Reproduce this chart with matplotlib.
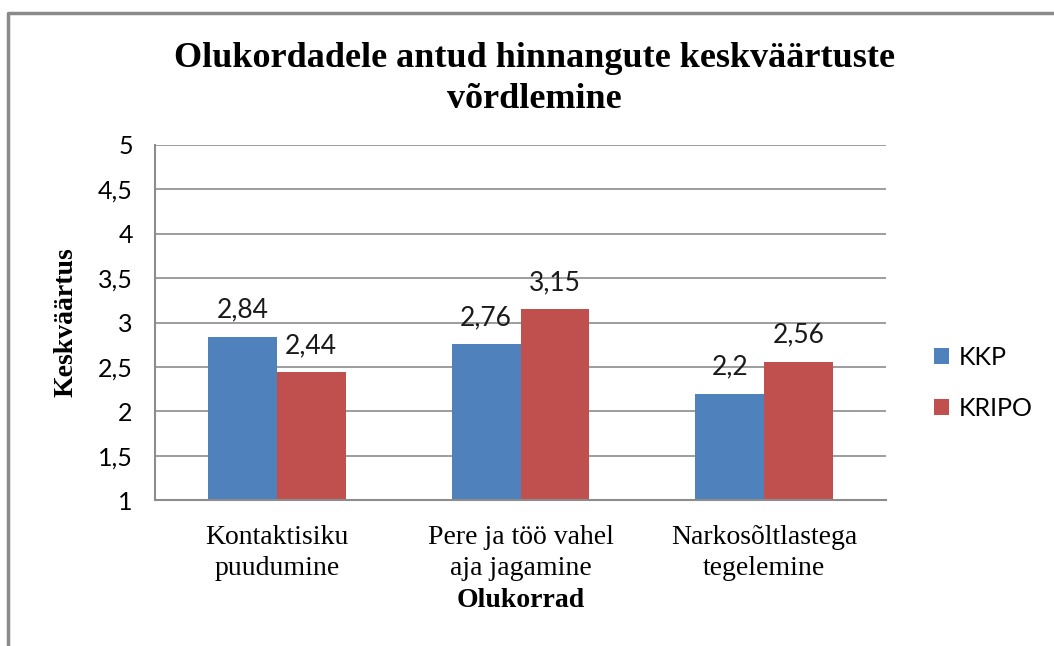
import numpy as np
import matplotlib
matplotlib.use("Agg")
import matplotlib.pyplot as plt
from matplotlib.lines import Line2D

# data
categories = ["Kontaktisiku\npuudumine", "Pere ja töö vahel\naja jagamine", "Narkosõltlastega\ntegelemine"]
kkp = [2.84, 2.76, 2.2]
kripo = [2.44, 3.15, 2.56]
series_names = ["KKP", "KRIPO"]
yticks = [1, 1.5, 2, 2.5, 3, 3.5, 4, 4.5, 5]

blue = "#4F81BD"
red = "#C0504D"
grid_col = "#8c8c8c"
serif = "Liberation Serif"
sans = "Lato"


def fmt(v):
    return ("%g" % v).replace(".", ",")


fig = plt.figure(figsize=(10.54, 6.46), dpi=100)
ax = fig.add_axes([155 / 1054, 1 - 500 / 646, 731 / 1054, 355 / 646])

x = np.arange(len(categories))
w = 0.283
b1 = ax.bar(x - w / 2, np.array(kkp) - 1, w, bottom=1, color=blue, label=series_names[0])
b2 = ax.bar(x + w / 2, np.array(kripo) - 1, w, bottom=1, color=red, label=series_names[1])

for bars, vals in ((b1, kkp), (b2, kripo)):
    for rect, v in zip(bars, vals):
        ax.annotate(fmt(v), (rect.get_x() + rect.get_width() / 2, v),
                    xytext=(0, 19), textcoords="offset points",
                    ha="center", va="center", fontsize=19, family=sans, color="#1a1a1a")

ax.set_xlim(-0.5, 2.5)
ax.set_ylim(1, 5)
ax.set_yticks(yticks)
ax.set_yticklabels([fmt(t) for t in yticks], family=sans, fontsize=18)
ax.set_xticks(x)
ax.set_xticklabels(categories, family=serif, fontsize=20, linespacing=1.3)
ax.tick_params(axis="y", length=0, pad=16)
ax.tick_params(axis="x", length=0, pad=18)

ax.yaxis.grid(True, color=grid_col, linewidth=1.2)
ax.set_axisbelow(True)
for s in ("top", "right"):
    ax.spines[s].set_visible(False)
for s in ("left", "bottom"):
    ax.spines[s].set_color(grid_col)
    ax.spines[s].set_linewidth(1.5)

ax.set_xlabel("Olukorrad", family=serif, fontsize=20, fontweight="bold", labelpad=5)
ax.set_ylabel("Keskväärtus", family=serif, fontsize=20, fontweight="bold", labelpad=14)

fig.text(534 / 1054, 1 - 79 / 646, "Olukordadele antud hinnangute keskväärtuste\nvõrdlemine",
         ha="center", va="center", family=serif, fontsize=26, fontweight="bold", linespacing=1.3)

leg = ax.legend(loc="center left", bbox_to_anchor=(1.035, 0.33), frameon=False,
                prop={"family": sans, "size": 18}, handlelength=0.6, handleheight=0.6,
                handletextpad=0.4, labelspacing=1.1)

# outer chart border (cut off at right and bottom like the reference)
fig.add_artist(Line2D([7.5 / 1054, 7.5 / 1054, 1.0], [0.0, 1 - 12.5 / 646, 1 - 12.5 / 646],
                      transform=fig.transFigure, color="#8a8a8a", linewidth=2.5))

fig.savefig("out.png", dpi=100)
